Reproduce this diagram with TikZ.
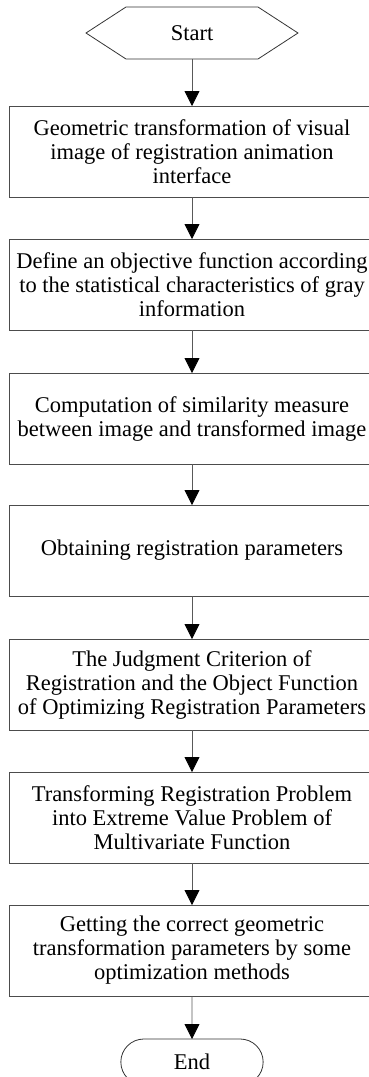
\documentclass[tikz,border=0pt]{standalone}
\usepackage{fontspec}
\setmainfont{Liberation Serif}
\usetikzlibrary{shapes.misc,arrows.meta,positioning}

\tikzset{
  txt/.style={font=\fontsize{22.5}{24}\selectfont, align=center, outer sep=0pt},
  process/.style={txt, draw=black!70, line width=0.8pt, minimum width=366pt, minimum height=91pt, inner sep=2pt},
  terminal/.style={txt, draw=black!80, line width=0.8pt, rounded rectangle, minimum width=149pt, minimum height=46pt},
  flow/.style={draw=black!65, line width=0.8pt, -{Triangle[width=15pt,length=15pt,black]}}
}

\begin{document}
\begin{tikzpicture}
\useasboundingbox (0,0) rectangle (369pt,-1077pt);
\node[txt, minimum width=132pt, minimum height=52pt, inner sep=0pt] (start) at (192pt,-33pt) {Start};
\draw[draw=black!80, line width=0.8pt] (start.north west) -- (start.north east) -- ([xshift=40pt]start.east)
  -- (start.south east) -- (start.south west) -- ([xshift=-40pt]start.west) -- cycle;
\node[process, below=47pt of start] (geo) {Geometric transformation of visual\\ image of registration animation\\ interface};
\node[process, below=42pt of geo] (obj) {Define an objective function according\\ to the statistical characteristics of gray\\ information};
\node[process, below=43pt of obj] (sim) {Computation of similarity measure\\ between image and transformed image};
\node[process, below=41pt of sim] (par) {Obtaining registration parameters};
\node[process, below=43pt of par] (crit) {The Judgment Criterion of\\ Registration and the Object Function\\ of Optimizing Registration Parameters};
\node[process, below=42pt of crit] (ext) {Transforming Registration Problem\\ into Extreme Value Problem of\\ Multivariate Function};
\node[process, below=42pt of ext] (opt) {Getting the correct geometric\\ transformation parameters by some\\ optimization methods};
\node[terminal, below=43pt of opt] (end) {End};
% arrows
\draw[flow] (start) -- (geo);
\draw[flow] (geo) -- (obj);
\draw[flow] (obj) -- (sim);
\draw[flow] (sim) -- (par);
\draw[flow] (par) -- (crit);
\draw[flow] (crit) -- (ext);
\draw[flow] (ext) -- (opt);
\draw[flow] (opt) -- (end);
\end{tikzpicture}
\end{document}
